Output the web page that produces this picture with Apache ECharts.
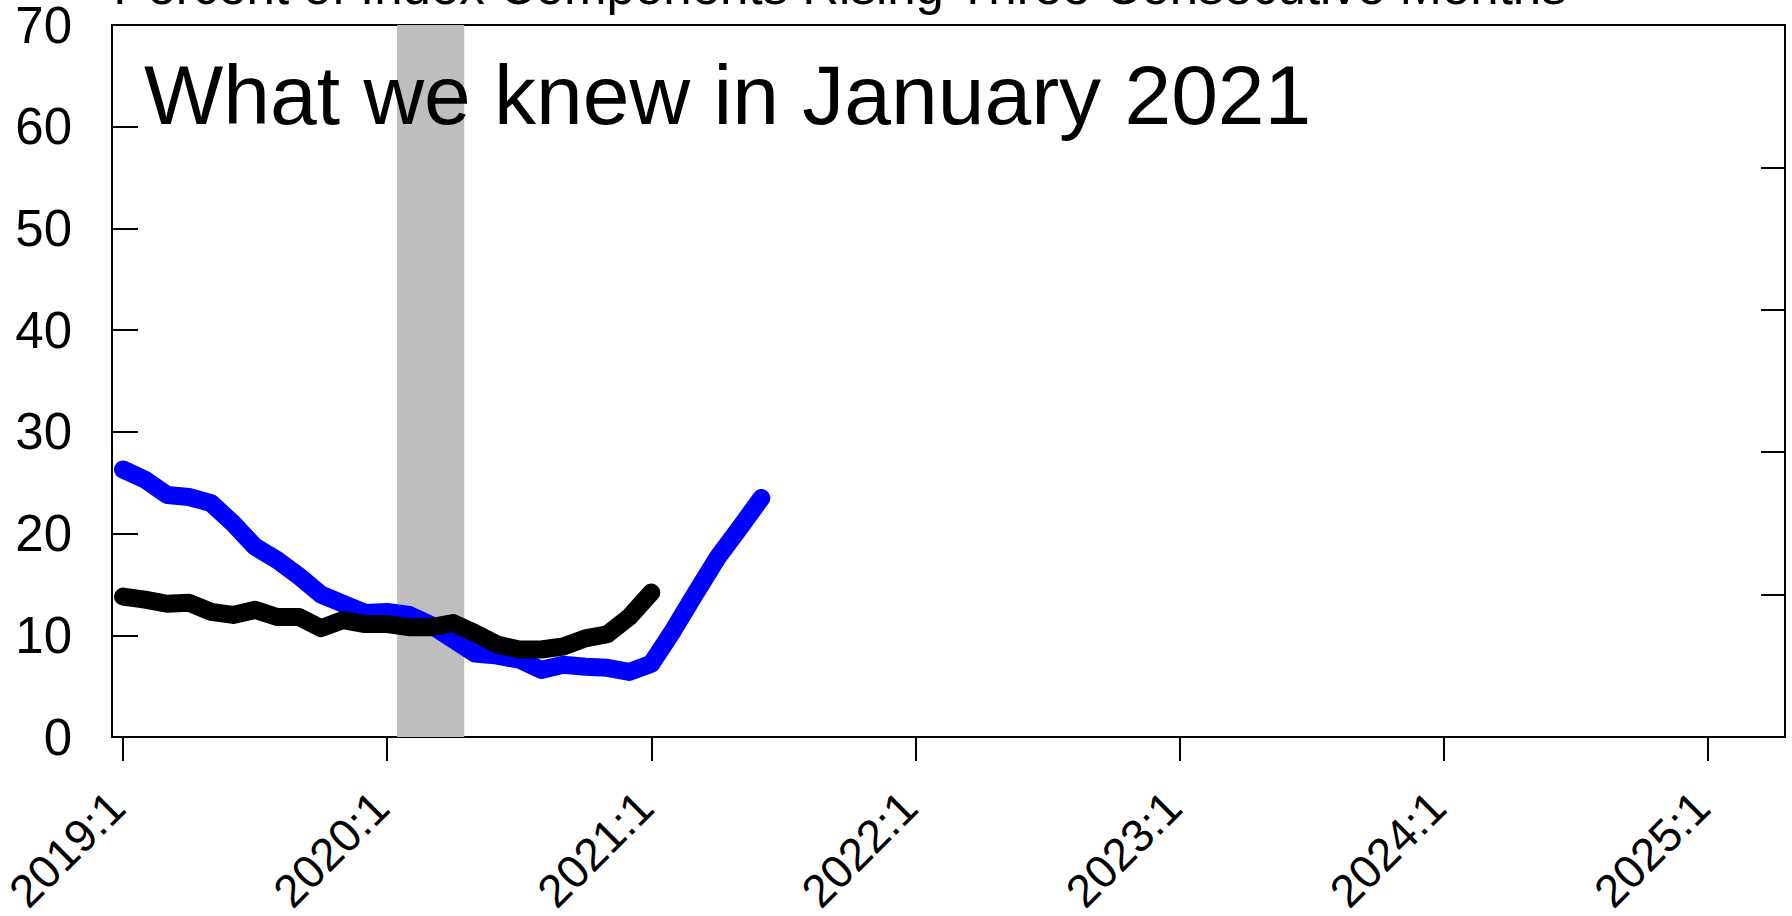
<!DOCTYPE html>
<html>
<head>
<meta charset="utf-8">
<script src="https://cdn.jsdelivr.net/npm/echarts@6/dist/echarts.min.js"></script>
<style>
html,body{margin:0;padding:0;background:#fff;}
#chart{width:1792px;height:916px;}
</style>
</head>
<body>
<div id="chart"></div>
<script>
// Monthly data, index 0 = 2019:1
const startYear = 2019;
const blueValues = [26.3, 25.3, 23.8, 23.6, 23.0, 21.0, 18.7, 17.4, 15.8, 14.0, 13.1, 12.2, 12.3, 12.0, 11.0, 9.6, 8.2, 8.0, 7.6, 6.6, 7.1, 6.9, 6.8, 6.4, 7.2, 10.5, 14.1, 17.6, 20.5, 23.5];
const blackValues = [13.8, 13.5, 13.1, 13.2, 12.3, 12.0, 12.5, 11.8, 11.8, 10.7, 11.5, 11.1, 11.1, 10.8, 10.8, 11.2, 10.2, 9.1, 8.6, 8.6, 8.9, 9.7, 10.1, 11.8, 14.2];
const xTickMonths = [0, 12, 24, 36, 48, 60, 72];
const yTicks = [0, 10, 20, 30, 40, 50, 60, 70];
const recession = [12.45, 15.5];
const titleText = 'Percent of Index Components Rising Three Consecutive Months';
const noteText = 'What we knew in January 2021';

const FONT = '"Liberation Sans", Arial, Helvetica, sans-serif';
const toPairs = arr => arr.map((v, i) => [i, v]);
const fmtMonth = v => (startYear + Math.floor(v / 12)) + ':' + (v % 12 + 1);

const chart = echarts.init(document.getElementById('chart'), null, {renderer: 'svg'});
chart.setOption({
  animation: false,
  backgroundColor: '#ffffff',
  grid: {left: 112, right: 7, top: 25, bottom: 179, containLabel: false, outerBoundsMode: 'none',
         show: true, borderColor: '#000', borderWidth: 2, backgroundColor: 'transparent'},
  xAxis: {
    type: 'value', min: -0.5, max: 75.5,
    axisLine: {show: true, onZero: false, lineStyle: {color: '#000', width: 2}},
    axisTick: {show: true, inside: false, length: 24, lineStyle: {color: '#000', width: 2}, customValues: xTickMonths},
    axisLabel: {show: true, rotate: 45, margin: 56, fontSize: 46, color: '#000', fontFamily: FONT,
                padding: [0, 9, 0, 0], customValues: xTickMonths, formatter: fmtMonth},
    splitLine: {show: false}
  },
  yAxis: [{
    type: 'value', min: yTicks[0], max: yTicks[yTicks.length - 1], interval: 10,
    axisLine: {show: true, onZero: false, lineStyle: {color: '#000', width: 2}},
    axisTick: {show: true, inside: true, length: 26, lineStyle: {color: '#000', width: 2}},
    axisLabel: {show: true, margin: 40, fontSize: 51, color: '#000', fontFamily: FONT},
    splitLine: {show: false}
  }, {
    type: 'value', position: 'right', min: 0, max: 5, interval: 1,
    axisLine: {show: true, onZero: false, lineStyle: {color: '#000', width: 2}},
    axisTick: {show: true, inside: true, length: 24, lineStyle: {color: '#000', width: 2}},
    axisLabel: {show: false},
    splitLine: {show: false}
  }],
  series: [{
    type: 'line', data: [], z: 1, silent: true,
    markArea: {silent: true, itemStyle: {color: '#BEBEBE'}, data: [[{xAxis: recession[0]}, {xAxis: recession[1]}]]}
  }, {
    type: 'line', data: toPairs(blueValues), z: 3, symbol: 'none', silent: true,
    lineStyle: {color: '#0000FF', width: 18, cap: 'round', join: 'round'}
  }, {
    type: 'line', data: toPairs(blackValues), z: 4, symbol: 'none', silent: true,
    lineStyle: {color: '#000000', width: 18, cap: 'round', join: 'round'}
  }],
  graphic: [{
    type: 'text', x: 840, y: -14, z: 100,
    style: {text: titleText, fontSize: 51, fontFamily: FONT, fill: '#000', align: 'center', verticalAlign: 'middle'}
  }, {
    type: 'text', x: 144, y: 95, z: 100,
    style: {text: noteText, fontSize: 84, fontFamily: FONT, fill: '#000', align: 'left', verticalAlign: 'middle'}
  }]
});
</script>
</body>
</html>
